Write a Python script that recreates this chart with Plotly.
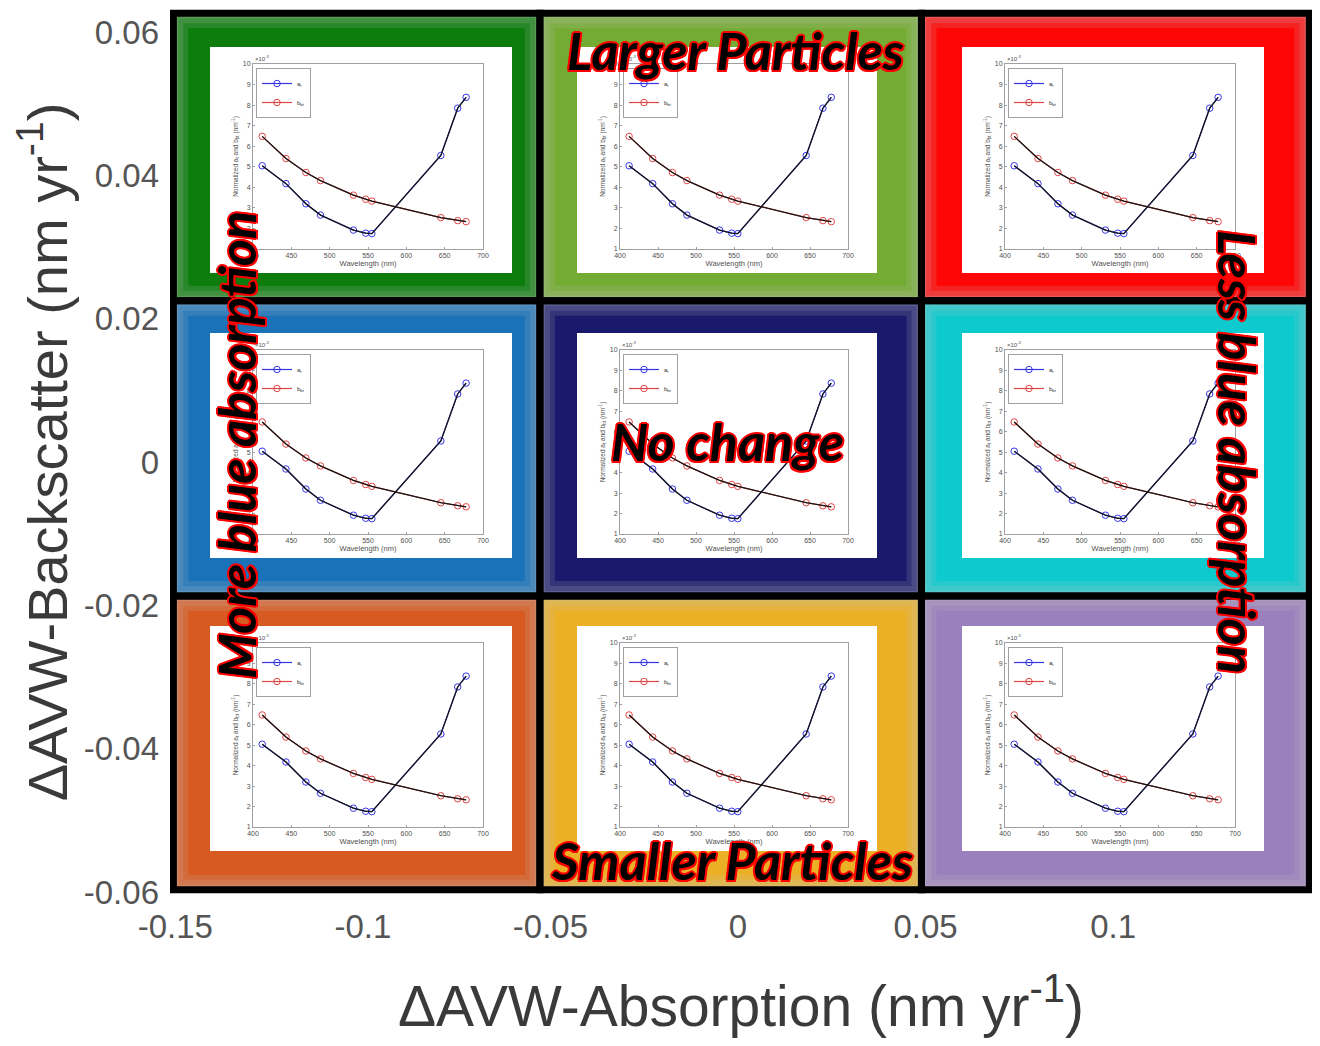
import plotly.graph_objects as go

# ---------------- data ----------------
wavelength_nm = [412, 443, 469, 488, 531, 547, 555, 645, 667, 678]
a_t = [5.05, 4.18, 3.20, 2.65, 1.92, 1.77, 1.75, 5.55, 7.85, 8.38]      # x 10^-3
b_bt = [6.48, 5.40, 4.72, 4.33, 3.62, 3.42, 3.33, 2.53, 2.38, 2.33]     # x 10^-3

absorption_edges = [-0.1505, -0.0528, 0.0489, 0.1523]
backscatter_edges = [-0.0597, -0.0187, 0.0225, 0.0626]
cell_colors = [  # rows bottom -> top, columns left -> right
    ["#d65a22", "#ebb025", "#9a80bc"],
    ["#1a72b8", "#1a1a6c", "#0ccacd"],
    ["#0c7c0c", "#74ab33", "#ff0606"],
]

x_tick_vals = [-0.15, -0.1, -0.05, 0, 0.05, 0.1]
x_tick_text = ["-0.15", "-0.1", "-0.05", "0", "0.05", "0.1"]
y_tick_vals = [0.06, 0.04, 0.02, 0, -0.02, -0.04, -0.06]
y_tick_text = ["0.06", "0.04", "0.02", "0", "-0.02", "-0.04", "-0.06"]

inset_x_ticks = [400, 450, 500, 550, 600, 650, 700]
inset_y_ticks = [1, 2, 3, 4, 5, 6, 7, 8, 9, 10]

region_labels = ["Larger Particles", "No change", "Smaller Particles",
                 "More blue absorption", "Less blue absorption"]

# ---------------- layout geometry ----------------
# the page body adds an 8px margin; positions below are given in screen pixels
W, H = 1304, 1030
ML, MR, MT, MB = 162, 0, 0, 142
X_RANGE = [-0.1514, 0.1530]
Y_RANGE = [-0.06056, 0.06335]
X_UNIT_PER_PX = (X_RANGE[1] - X_RANGE[0]) / (W - ML - MR)
Y_UNIT_PER_PX = (Y_RANGE[1] - Y_RANGE[0]) / (H - MT - MB)


def px_x(s):
    return (s - 8 - ML) / (W - ML - MR)


def px_y(s):
    return (H - MB - (s - 8)) / (H - MT - MB)


def blend(hex_col, other, t):
    a = [int(hex_col[i:i + 2], 16) for i in (1, 3, 5)]
    b = [int(other[i:i + 2], 16) for i in (1, 3, 5)]
    m = [round(a[i] * (1 - t) + b[i] * t) for i in range(3)]
    return "#%02x%02x%02x" % tuple(m)


box_cols = [(210, 512), (577, 877), (962, 1264)]
box_rows = [(47, 273), (333, 558), (626, 851)]
ax_cols = [(253, 483), (620, 848), (1005, 1235)]
ax_rows = [(64, 249), (350, 534), (643, 827)]

fig = go.Figure()

# main axes carrier trace
fig.add_trace(go.Scatter(x=[], y=[], xaxis="x", yaxis="y", showlegend=False, hoverinfo="skip"))

# white backing subplots (axes 2..10)
for k in range(9):
    n = k + 2
    fig.add_trace(go.Scatter(x=[], y=[], xaxis=f"x{n}", yaxis=f"y{n}", showlegend=False, hoverinfo="skip"))

# inset subplots (axes 11..19)
for k in range(9):
    n = k + 11
    lg = "legend" if k == 0 else f"legend{k + 1}"
    fig.add_trace(go.Scatter(
        x=wavelength_nm, y=a_t, xaxis=f"x{n}", yaxis=f"y{n}", name="a<sub>t</sub>",
        mode="lines+markers", line=dict(color="#3535e8", width=1.2),
        marker=dict(symbol="circle-open", size=6.5, color="#3535e8", line=dict(width=1)),
        legend=lg, hoverinfo="skip"))
    fig.add_trace(go.Scatter(
        x=wavelength_nm, y=b_bt, xaxis=f"x{n}", yaxis=f"y{n}", name="b<sub>bt</sub>",
        mode="lines+markers", line=dict(color="#e04545", width=1.2),
        marker=dict(symbol="circle-open", size=6.5, color="#e04545", line=dict(width=1)),
        legend=lg, hoverinfo="skip"))
    for yy in (a_t, b_bt):
        fig.add_trace(go.Scatter(
            x=wavelength_nm, y=yy, xaxis=f"x{n}", yaxis=f"y{n}", mode="lines",
            line=dict(color="#151515", width=1.3), showlegend=False, hoverinfo="skip"))

layout = dict(
    width=W, height=H,
    margin=dict(l=ML, r=MR, t=MT, b=MB, autoexpand=False),
    paper_bgcolor="white", plot_bgcolor="white",
    font=dict(family="Liberation Sans, Arial, sans-serif"),
    xaxis=dict(range=X_RANGE, showgrid=False, zeroline=False, showline=False,
               automargin=False, ticklabelstandoff=8,
               tickvals=x_tick_vals, ticktext=x_tick_text, ticks="",
               tickfont=dict(size=33, color="#555555"),
               title=dict(text="ΔAVW-Absorption (nm yr<sup>-1</sup>)",
                          font=dict(size=57, color="#3a3a3a"), standoff=46)),
    yaxis=dict(range=Y_RANGE, showgrid=False, zeroline=False, showline=False,
               automargin=False, ticklabelstandoff=10,
               tickvals=y_tick_vals, ticktext=y_tick_text, ticks="",
               tickfont=dict(size=33, color="#555555"),
               title=dict(text="ΔAVW-Backscatter (nm yr<sup>-1</sup>)",
                          font=dict(size=56, color="#3a3a3a"), standoff=14)),
)

shapes = []
# coloured cells with a soft faded rim (stepped)
glow_steps = [(0, 0.42), (5, 0.28), (10, 0.15), (15, 0.0)]
for r in range(3):
    for c in range(3):
        for inset_px, t in glow_steps:
            dx = inset_px * X_UNIT_PER_PX
            dy = inset_px * Y_UNIT_PER_PX
            shapes.append(dict(type="rect", xref="x", yref="y", layer="below",
                               x0=absorption_edges[c] + dx, x1=absorption_edges[c + 1] - dx,
                               y0=backscatter_edges[r] + dy, y1=backscatter_edges[r + 1] - dy,
                               fillcolor=blend(cell_colors[r][c], "#c4c4c4", t), line=dict(width=0)))
for r in range(3):
    for c in range(3):
        shapes.append(dict(type="rect", xref="x", yref="y", layer="above",
                           x0=absorption_edges[c], x1=absorption_edges[c + 1],
                           y0=backscatter_edges[r], y1=backscatter_edges[r + 1],
                           fillcolor="rgba(0,0,0,0)", line=dict(width=7, color="black")))

annotations = []
for r in range(3):
    for c in range(3):
        k = r * 3 + c
        nb = k + 2
        ni = k + 11
        bx0, bx1 = box_cols[c]
        by0, by1 = box_rows[r]
        layout[f"xaxis{nb}"] = dict(domain=[px_x(bx0), px_x(bx1)], anchor=f"y{nb}", visible=False,
                                    range=[0, 1], automargin=False)
        layout[f"yaxis{nb}"] = dict(domain=[px_y(by1), px_y(by0)], anchor=f"x{nb}", visible=False,
                                    range=[0, 1], automargin=False)
        ax0, ax1 = ax_cols[c]
        ay0, ay1 = ax_rows[r]
        common = dict(showgrid=False, zeroline=False, showline=True, mirror=True,
                      linecolor="#a0a0a0", linewidth=1, ticks="inside", ticklen=2,
                      tickcolor="#a0a0a0", tickfont=dict(size=7, color="#505050"),
                      automargin=False)
        layout[f"xaxis{ni}"] = dict(domain=[px_x(ax0), px_x(ax1)], anchor=f"y{ni}",
                                    range=[400, 700], tickvals=inset_x_ticks,
                                    title=dict(text="Wavelength (nm)", font=dict(size=7.5, color="#505050"),
                                               standoff=2),
                                    **common)
        layout[f"yaxis{ni}"] = dict(domain=[px_y(ay1), px_y(ay0)], anchor=f"x{ni}",
                                    range=[1, 10], tickvals=inset_y_ticks,
                                    title=dict(text="Normalized a<sub>t</sub> and b<sub>bt</sub> (nm<sup>-1</sup>)",
                                               font=dict(size=6.5, color="#505050"), standoff=3),
                                    **common)
        lg = "legend" if k == 0 else f"legend{k + 1}"
        layout[lg] = dict(x=px_x(ax0 + 3), y=px_y(ay0 + 4), xanchor="left", yanchor="top",
                          bgcolor="white", bordercolor="#a0a0a0", borderwidth=1,
                          font=dict(size=6, color="#333"), itemwidth=30,
                          tracegroupgap=0, itemclick=False, itemdoubleclick=False)
        annotations.append(dict(text="×10<sup>-3</sup>", xref=f"x{ni} domain", yref=f"y{ni} domain",
                                x=0, y=1, xanchor="left", yanchor="bottom", showarrow=False,
                                font=dict(size=6, color="#505050")))

label_font = dict(family="Lato, Open Sans, sans-serif", size=52, color="black",
                  weight="bold", style="italic",
                  shadow="1.5px 1.5px 0 #ff0000, -1.5px -1.5px 0 #ff0000, 1.5px -1.5px 0 #ff0000, "
                         "-1.5px 1.5px 0 #ff0000, 0 2px 0 #ff0000, 0 -2px 0 #ff0000, 2px 0 0 #ff0000, -2px 0 0 #ff0000")
label_pos = [(735, 50, 0), (727, 441, 0), (732, 860, 0), (236, 445, -90), (1238, 452, 90)]
for txt, (lx, ly, ang) in zip(region_labels, label_pos):
    annotations.append(dict(text=txt, xref="paper", yref="paper", x=px_x(lx), y=px_y(ly),
                            xanchor="center", yanchor="middle", showarrow=False,
                            textangle=ang, font=label_font))

layout["shapes"] = shapes
layout["annotations"] = annotations
fig.update_layout(**layout)
fig.write_html("out.html")
